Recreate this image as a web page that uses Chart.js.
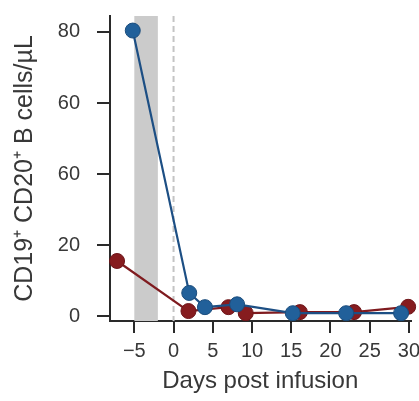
<!DOCTYPE html>
<html>
<head>
<meta charset="utf-8">
<script src="https://cdn.jsdelivr.net/npm/chart.js@4.4.1/dist/chart.umd.min.js"></script>
<style>
  html, body { margin: 0; padding: 0; background: #ffffff; }
  #wrap { width: 419px; height: 401px; position: relative; }
</style>
</head>
<body>
<div id="wrap"><canvas id="c" width="419" height="401"></canvas></div>
<script>
// ---- data ----
const blueDays   = [-5.2, 2, 4, 8.1, 15.2, 22, 29];
const blueValues = [80.4, 6.5, 2.5, 3.3, 0.8, 0.8, 0.8];
const redDays    = [-7.2, 1.9, 7, 9.2, 16.1, 23, 29.9];
const redValues  = [15.5, 1.4, 2.5, 0.8, 1.1, 1.1, 2.6];
const xTickValues = [-5, 0, 5, 10, 15, 20, 25, 30];
const xTickLabels = ['\u22125', '0', '5', '10', '15', '20', '25', '30'];
const yTickValues = [0, 20, 40, 60, 80];
const yTickLabels = ['0', '20', '60', '60', '80'];
const shadeStartDay = -5;
const shadeEndDay = -2;
const infusionDay = 0;

const blueSeries = blueDays.map((d, i) => ({ x: d, y: blueValues[i] }));
const redSeries = redDays.map((d, i) => ({ x: d, y: redValues[i] }));

const bgPlugin = {
  id: 'bgMarks',
  beforeDatasetsDraw(chart) {
    const { ctx, chartArea, scales } = chart;
    const x = scales.x;
    const x0 = x.getPixelForValue(shadeStartDay);
    const x1 = x.getPixelForValue(shadeEndDay);
    ctx.save();
    ctx.fillStyle = '#cbcbcb';
    ctx.fillRect(x0, chartArea.top, x1 - x0, chartArea.bottom - chartArea.top);
    const xd = x.getPixelForValue(infusionDay);
    ctx.strokeStyle = '#c4c4c4';
    ctx.lineWidth = 2;
    ctx.setLineDash([6, 4]);
    ctx.beginPath();
    ctx.moveTo(xd, chartArea.top);
    ctx.lineTo(xd, chartArea.bottom);
    ctx.stroke();
    ctx.restore();
  }
};

const tickFont = { family: '"Liberation Sans", Arial, sans-serif', size: 20 };
const titleFont = { family: '"Liberation Sans", Arial, sans-serif', size: 24 };
const yTitleFont = { family: '"Liberation Sans", Arial, sans-serif', size: 25 };
const axisColor = '#2a2a2a';
const textColor = '#383838';

new Chart(document.getElementById('c'), {
  type: 'scatter',
  data: {
    datasets: [
      {
        label: 'blue',
        data: blueSeries,
        showLine: true,
        borderColor: '#1d4f84',
        backgroundColor: '#21609a',
        pointBorderColor: '#1a4c7c',
        pointBackgroundColor: '#21609a',
        pointRadius: 7.5,
        pointBorderWidth: 1,
        borderWidth: 2.2,
        clip: false
      },
      {
        label: 'red',
        data: redSeries,
        showLine: true,
        borderColor: '#7f1b1f',
        backgroundColor: '#861c1f',
        pointBorderColor: '#6e1519',
        pointBackgroundColor: '#861c1f',
        pointRadius: 7.5,
        pointBorderWidth: 1,
        borderWidth: 2.2,
        clip: false
      }
    ]
  },
  options: {
    responsive: false,
    animation: false,
    devicePixelRatio: 1,
    layout: { padding: { top: 16, right: 7, left: 0, bottom: 0 } },
    plugins: { legend: { display: false }, tooltip: { enabled: false } },
    scales: {
      x: {
        type: 'linear',
        min: -8.1,
        max: 30.2,
        afterBuildTicks(s) { s.ticks = xTickValues.map(v => ({ value: v })); },
        afterFit(s) { s.height = 80; s.paddingLeft = 0; s.paddingRight = 0; },
        ticks: {
          font: tickFont,
          color: textColor,
          padding: 6,
          maxRotation: 0,
          autoSkip: false,
          callback(value) {
            const i = xTickValues.indexOf(value);
            return i >= 0 ? xTickLabels[i] : '';
          }
        },
        grid: { display: true, drawOnChartArea: false, drawTicks: true, tickLength: 12, color: axisColor, lineWidth: 2 },
        border: { display: true, color: axisColor, width: 2 },
        title: { display: true, text: 'Days post infusion', font: titleFont, color: textColor, padding: { top: 0, bottom: 5 } }
      },
      y: {
        type: 'linear',
        min: -1.4,
        max: 84.5,
        afterBuildTicks(s) { s.ticks = yTickValues.map(v => ({ value: v })); },
        afterFit(s) { s.width = 110; s.paddingTop = 0; s.paddingBottom = 0; },
        ticks: {
          font: tickFont,
          color: textColor,
          padding: 17,
          autoSkip: false,
          callback(value) {
            const i = yTickValues.indexOf(value);
            return i >= 0 ? yTickLabels[i] : '';
          }
        },
        grid: { display: true, drawOnChartArea: false, drawTicks: true, tickLength: 13, color: axisColor, lineWidth: 2 },
        border: { display: true, color: axisColor, width: 2 },
        title: { display: true, text: 'CD19\u207A CD20\u207A B cells/\u00B5L', font: yTitleFont, color: textColor, padding: { top: 10, bottom: 0 } }
      }
    }
  },
  plugins: [bgPlugin]
});
</script>
</body>
</html>
